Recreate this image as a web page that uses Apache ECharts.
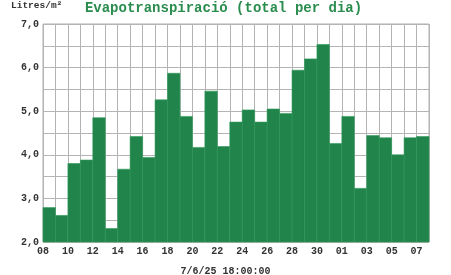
<!DOCTYPE html>
<html>
<head>
<meta charset="utf-8">
<script src="https://cdn.jsdelivr.net/npm/echarts@6/dist/echarts.min.js"></script>
<style>html,body{margin:0;padding:0;background:#fff}#c{width:451px;height:275px}</style>
</head>
<body>
<div id="c"></div>
<script>
const days = ['08','09','10','11','12','13','14','15','16','17','18','19','20','21','22','23','24','25','26','27','28','29','30','31','01','02','03','04','05','06','07'];
const values = [2.79,2.61,3.80,3.88,4.85,2.31,3.67,4.42,3.94,5.26,5.87,4.88,4.17,5.46,4.19,4.75,5.03,4.75,5.05,4.95,5.94,6.20,6.53,4.26,4.88,3.23,4.44,4.39,4.00,4.39,4.42];
const yMin = 2, yMax = 7;
const title = 'Evapotranspiració (total per dia)';
const unitLabel = 'Litres/m²';
const dateLabel = '7/6/25 18:00:00';

const chart = echarts.init(document.getElementById('c'), null, {renderer: 'canvas'});
const mono = '"Liberation Mono", "DejaVu Sans Mono", monospace';
chart.setOption({
  animation: false,
  backgroundColor: '#fff',
  title: [
    {text: title, left: 223.5, top: 1, padding: 0, textAlign: 'center',
     textStyle: {fontFamily: mono, fontSize: 14, fontWeight: 'bold', color: '#2a8c4e'}},
    {text: unitLabel, left: 11, top: 1, padding: 0,
     textStyle: {fontFamily: mono, fontSize: 9.5, fontWeight: 'bold', color: '#333'}},
    {text: dateLabel, left: 225.5, top: 266, padding: 0, textAlign: 'center',
     textStyle: {fontFamily: mono, fontSize: 10, fontWeight: 'bold', color: '#333'}}
  ],
  grid: {left: 43, right: 22, top: 24, bottom: 33, show: true, borderColor: '#b0b0b0', borderWidth: 1},
  xAxis: {
    type: 'value', min: 0, max: days.length, interval: 1,
    axisLine: {show: false}, axisTick: {show: false},
    splitLine: {show: true, lineStyle: {color: '#b4b4b4', width: 1}},
    axisLabel: {
      margin: 4, fontFamily: mono, fontSize: 10, fontWeight: 'bold', color: '#333',
      formatter: v => (v % 2 === 0 && v < days.length) ? days[v] : ''
    }
  },
  yAxis: {
    type: 'value', min: yMin, max: yMax, interval: 0.5,
    axisLine: {show: false}, axisTick: {show: false},
    splitLine: {show: true, lineStyle: {color: '#b4b4b4', width: 1}},
    axisLabel: {
      margin: 4, fontFamily: mono, fontSize: 10, fontWeight: 'bold', color: '#333',
      formatter: v => Number.isInteger(v) ? v.toFixed(1).replace('.', ',') : ''
    }
  },
  series: [{
    type: 'custom',
    data: values.map((v, i) => [i, v]),
    encode: {x: 0, y: 1},
    renderItem: (params, api) => {
      const i = api.value(0), v = api.value(1);
      const p0 = api.coord([i, yMin]);
      const p1 = api.coord([i + 1, v]);
      return {
        type: 'rect',
        shape: {x: p0[0], y: p1[1], width: p1[0] - p0[0], height: p0[1] - p1[1]},
        style: {fill: '#21844b', stroke: '#2f9a5a', lineWidth: 0.6}
      };
    }
  }]
});
</script>
</body>
</html>
